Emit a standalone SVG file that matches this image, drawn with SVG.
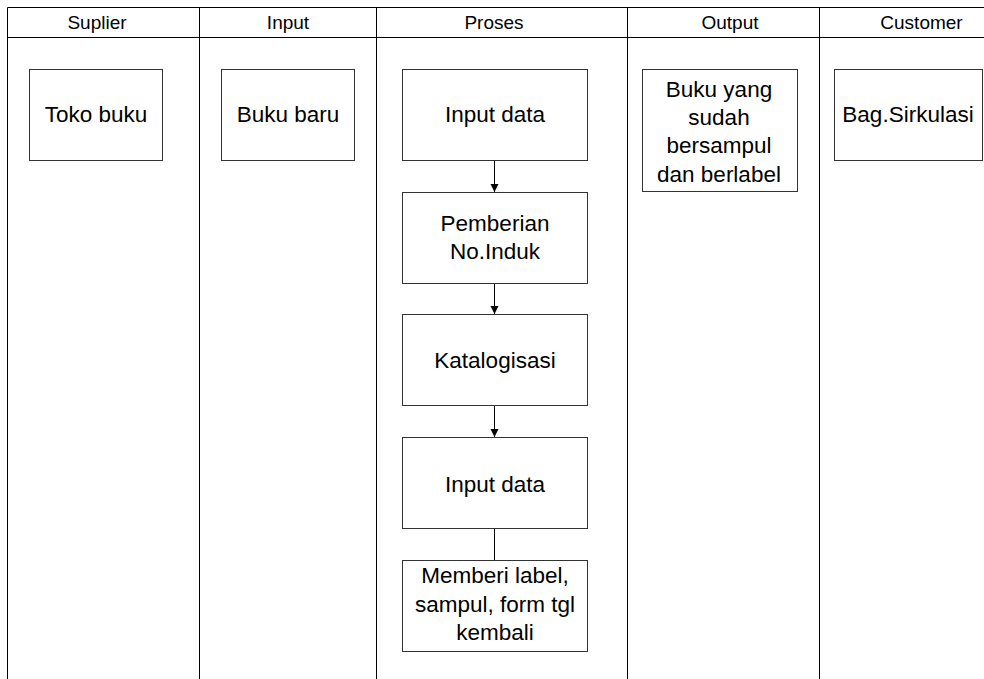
<svg xmlns="http://www.w3.org/2000/svg" width="984" height="679" viewBox="0 0 984 679">
<defs>
<style>
.lane{stroke:#000;stroke-width:1;fill:none}
.box{fill:#fff;stroke:#333;stroke-width:1}
.hd{font-family:"Liberation Sans",Arial,sans-serif;font-size:19px;fill:#000;text-anchor:middle}
.t{font-family:"Liberation Sans",Arial,sans-serif;font-size:22.5px;fill:#000;text-anchor:middle}
.c{stroke:#000;stroke-width:1;fill:none}
</style>
<marker id="ah" markerWidth="10" markerHeight="10" refX="9" refY="5" orient="auto" markerUnits="userSpaceOnUse">
<path d="M1,1 L9,5 L1,9 Z" fill="#000"/>
</marker>
</defs>
<rect width="984" height="679" fill="#fff"/>
<g id="lanes">
<line class="lane" x1="7.5" y1="7.5" x2="984" y2="7.5"/>
<line class="lane" x1="7.5" y1="37.5" x2="984" y2="37.5"/>
<line class="lane" x1="7.5" y1="7.5" x2="7.5" y2="679"/>
<line class="lane" x1="199.5" y1="7.5" x2="199.5" y2="679"/>
<line class="lane" x1="376.5" y1="7.5" x2="376.5" y2="679"/>
<line class="lane" x1="627.5" y1="7.5" x2="627.5" y2="679"/>
<line class="lane" x1="819.5" y1="7.5" x2="819.5" y2="679"/>
<text class="hd" x="97" y="28.5">Suplier</text>
<text class="hd" x="288" y="28.5">Input</text>
<text class="hd" x="494" y="28.5">Proses</text>
<text class="hd" x="730" y="28.5">Output</text>
<text class="hd" x="921.5" y="28.5">Customer</text>
</g>
<g id="connectors">
<line class="c" x1="494.5" y1="161" x2="494.5" y2="192" marker-end="url(#ah)"/>
<line class="c" x1="494.5" y1="283" x2="494.5" y2="314" marker-end="url(#ah)"/>
<line class="c" x1="494.5" y1="406" x2="494.5" y2="437" marker-end="url(#ah)"/>
<line class="c" x1="494.5" y1="529" x2="494.5" y2="560"/>
</g>
<g id="toko-buku">
<rect class="box" x="29.5" y="69.5" width="133" height="91"/>
<text class="t" x="96" y="122">Toko buku</text>
</g>
<g id="buku-baru">
<rect class="box" x="221.5" y="69.5" width="133" height="91"/>
<text class="t" x="288" y="122">Buku baru</text>
</g>
<g id="input-data-1">
<rect class="box" x="402.5" y="69.5" width="185" height="91"/>
<text class="t" x="495" y="122">Input data</text>
</g>
<g id="pemberian">
<rect class="box" x="402.5" y="192.5" width="185" height="91"/>
<text class="t" x="495" y="231">Pemberian</text>
<text class="t" x="495" y="259">No.Induk</text>
</g>
<g id="katalogisasi">
<rect class="box" x="402.5" y="314.5" width="185" height="91"/>
<text class="t" x="495" y="368">Katalogisasi</text>
</g>
<g id="input-data-2">
<rect class="box" x="402.5" y="437.5" width="185" height="91"/>
<text class="t" x="495" y="492">Input data</text>
</g>
<g id="memberi">
<rect class="box" x="402.5" y="560.5" width="185" height="91"/>
<text class="t" x="495" y="583">Memberi label,</text>
<text class="t" x="495" y="612">sampul, form tgl</text>
<text class="t" x="495" y="640">kembali</text>
</g>
<g id="output">
<rect class="box" x="642.5" y="69.5" width="155" height="122"/>
<text class="t" x="719" y="97">Buku yang</text>
<text class="t" x="719" y="125">sudah</text>
<text class="t" x="719" y="153">bersampul</text>
<text class="t" x="719" y="182">dan berlabel</text>
</g>
<g id="bag-sirkulasi">
<rect class="box" x="834.5" y="69.5" width="148" height="91"/>
<text class="t" x="908" y="122">Bag.Sirkulasi</text>
</g>
</svg>
